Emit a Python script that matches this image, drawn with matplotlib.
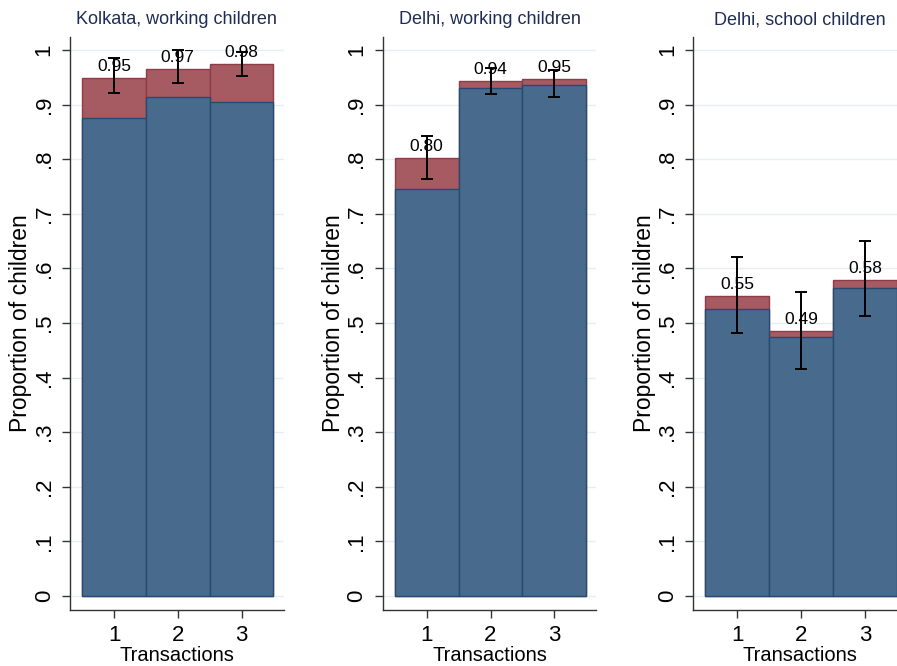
import matplotlib.pyplot as plt
import numpy as np

plt.rcParams['font.family'] = ['Liberation Sans Narrow', 'Liberation Sans', 'DejaVu Sans']

titles = ["Kolkata, working children", "Delhi, working children", "Delhi, school children"]
transactions = [1, 2, 3]

# blue part (lower) and full height (top of red part)
blue_vals = [
    [0.875, 0.914, 0.905],
    [0.745, 0.930, 0.936],
    [0.525, 0.474, 0.565],
]
total_vals = [
    [0.949, 0.965, 0.975],
    [0.802, 0.943, 0.947],
    [0.550, 0.485, 0.579],
]
err_low = [
    [0.921, 0.940, 0.953],
    [0.764, 0.919, 0.914],
    [0.481, 0.415, 0.512],
]
err_high = [
    [0.986, 1.000, 0.997],
    [0.843, 0.967, 0.963],
    [0.621, 0.556, 0.650],
]
bar_labels = [
    ["0.95", "0.97", "0.98"],
    ["0.80", "0.94", "0.95"],
    ["0.55", "0.49", "0.58"],
]

yticks = np.arange(0, 1.01, 0.1)
ytick_labels = ["0", ".1", ".2", ".3", ".4", ".5", ".6", ".7", ".8", ".9", "1"]

blue = "#486a8c"
blue_edge = "#264b72"
red = "#a65a62"
red_edge = "#8e3d48"
grid_col = "#e6eef3"
title_col = "#1e2d55"

fig = plt.figure(figsize=(8.97, 6.66), dpi=100)

lefts = [70, 382.7, 693.3]
width_px = 213.7
for i in range(3):
    ax = fig.add_axes([lefts[i] / 897, 1 - 610 / 666, width_px / 897, (610 - 36.7) / 666])
    ax.bar(transactions, total_vals[i], width=1.0, color=red, edgecolor=red_edge, linewidth=1, zorder=2)
    ax.bar(transactions, blue_vals[i], width=1.0, color=blue, edgecolor=blue_edge, linewidth=1, zorder=3)
    mid = [(lo + hi) / 2 for lo, hi in zip(err_low[i], err_high[i])]
    half = [(hi - lo) / 2 for lo, hi in zip(err_low[i], err_high[i])]
    ax.errorbar(transactions, mid, yerr=half, fmt='none', ecolor='black',
                elinewidth=1.4, capsize=4, capthick=1.4, zorder=5)
    for x, top, lab in zip(transactions, total_vals[i], bar_labels[i]):
        ax.annotate(lab, (x, top), xytext=(0, 3), textcoords='offset points',
                    ha='center', va='bottom', fontsize=12.5, zorder=6)

    ax.set_xlim(0.31, 3.66)
    ax.set_ylim(-0.0256, 1.0244)
    ax.set_xticks(transactions)
    ax.set_xticklabels([str(t) for t in transactions], fontsize=16)
    ax.set_yticks(yticks)
    ax.set_yticklabels(ytick_labels, fontsize=16, rotation=90, va='center')
    ax.tick_params(axis='both', direction='out', length=6, width=1, color='#333333', pad=5)
    ax.yaxis.grid(True, color=grid_col, linewidth=1, zorder=0)
    ax.set_axisbelow(True)
    for s in ['top', 'right']:
        ax.spines[s].set_visible(False)
    for s in ['left', 'bottom']:
        ax.spines[s].set_color('#333333')
        ax.spines[s].set_linewidth(1)
    ax.set_title(titles[i], fontsize=13, color=title_col, pad=9)
    ax.set_xlabel("Transactions", fontsize=14.5, labelpad=0)
    ax.set_ylabel("Proportion of children", fontsize=16.5, labelpad=1)

fig.savefig("out.png", dpi=100)
